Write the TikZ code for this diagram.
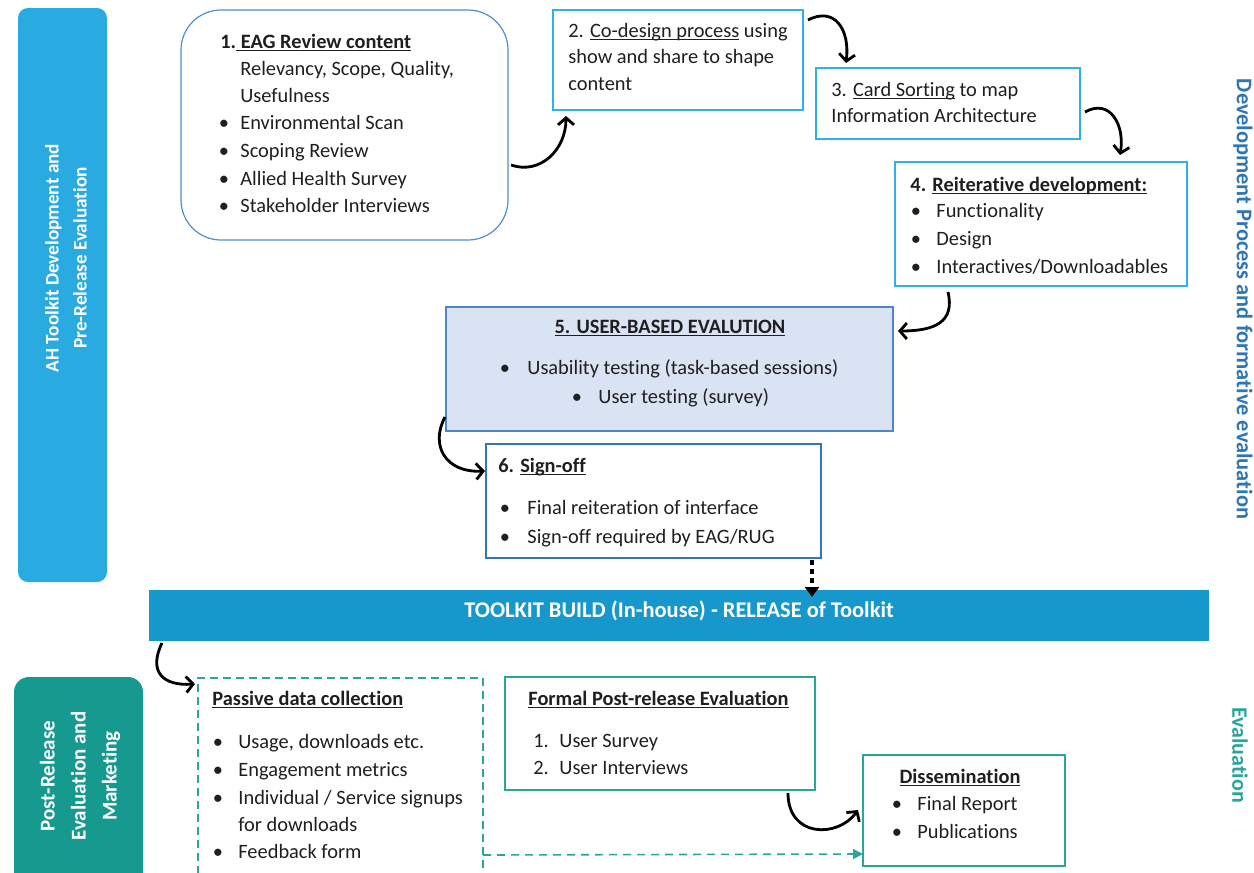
\documentclass[tikz,border=0pt]{standalone}
\usepackage{fontspec}
\setmainfont{Carlito}[Ligatures=NoCommon]
\usetikzlibrary{arrows.meta,calc}
\newcommand\myul[1]{\leavevmode\setbox0\hbox{#1}\rlap{\rule[-1.7pt]{\wd0}{0.7pt}}\box0{}}
\definecolor{lbarblue}{HTML}{29ABE2}
\definecolor{barblue}{HTML}{1798CC}
\definecolor{tealfill}{HTML}{16998F}
\definecolor{tealline}{HTML}{2AA59E}
\definecolor{rightblue}{HTML}{2E75B6}
\definecolor{boxoneline}{HTML}{4A90D0}
\definecolor{cyanline}{HTML}{2EB0E8}
\definecolor{bfivefill}{HTML}{DAE3F3}
\definecolor{bfiveline}{HTML}{4F86C6}
\definecolor{bsixline}{HTML}{3674B8}
\definecolor{textcol}{HTML}{1F1F1F}
\newcommand\bodyf{\fontsize{10.2}{12}\selectfont}
\tikzset{
  box/.style={draw, line width=0.75pt, anchor=north west, inner sep=0pt, outer sep=0pt},
  tx/.style={anchor=base west, inner sep=0pt, font=\bodyf, text=textcol},
  txc/.style={anchor=base, inner sep=0pt, font=\bodyf, text=textcol},
  bl/.style={anchor=base, inner sep=0pt, font=\bodyf, text=textcol},
  carrow/.style={line width=1.4pt, black, -{Straight Barb[length=3.5pt,width=8pt,line width=1.4pt]}},
}
\begin{document}
\begin{tikzpicture}[x=0.5pt,y=-0.5pt]
\useasboundingbox (0,0) rectangle (1254,873);
\fill[white] (0,0) rectangle (1254,873);

% side labels
\node[box, draw=none, fill=lbarblue, rounded corners=5pt, minimum width=44.5pt, minimum height=287pt] (lbar) at (18,8) {};
\node[rotate=90, align=center, text=white, font=\bfseries\fontsize{9.6}{14}\selectfont] (lbartxt) at (66,258) {AH Toolkit Development and\\Pre-Release Evaluation};
\node[box, draw=none, fill=tealfill, rounded corners=7.5pt, minimum width=64.5pt, minimum height=120pt] (tbox) at (14,677) {};
\node[rotate=90, align=center, text=white, font=\bfseries\fontsize{10.5}{15.5}\selectfont] (tboxtxt) at (80,776) {Post-Release\\Evaluation and\\Marketing};
\node[rotate=-90, text=rightblue, font=\bfseries\fontsize{11.2}{12}\selectfont] (rtxt1) at (1243,299) {Development Process and formative evaluation};
\node[rotate=-90, text=tealline, font=\bfseries\fontsize{11}{12}\selectfont] (rtxt2) at (1240,755) {Evaluation};

% boxes
\node[box, draw=boxoneline, line width=0.6pt, rounded corners=20pt, minimum width=163.5pt, minimum height=115pt] (b1) at (181,10) {};
\node[box, draw=cyanline, minimum width=125pt, minimum height=50pt] (b2) at (553,10) {};
\node[box, draw=cyanline, minimum width=132pt, minimum height=35.5pt] (b3) at (816,68) {};
\node[box, draw=cyanline, minimum width=146pt, minimum height=62pt] (b4) at (895,162) {};
\node[box, draw=bfiveline, fill=bfivefill, minimum width=223.5pt, minimum height=62pt] (b5) at (446,307) {};
\node[box, draw=bsixline, minimum width=167.5pt, minimum height=57pt] (b6) at (486,444) {};
\node[box, draw=none, fill=barblue, minimum width=530pt, minimum height=25.5pt] (bar) at (149,590) {};
\node[box, draw=tealline, dash pattern=on 4pt off 2.5pt, minimum width=142.5pt, minimum height=115pt] (pas) at (198,678) {};
\node[box, draw=tealline, minimum width=155pt, minimum height=56.5pt] (formal) at (505,677) {};
\node[box, draw=tealline, minimum width=101pt, minimum height=55.5pt] (diss) at (863,755) {};

% box 1 text
\node[tx] (t1h) at (220,48) {\bfseries 1.\myul{ EAG Review content}};
\node[tx] (t1a) at (240,75) {Relevancy, Scope, Quality,};
\node[tx] (t1b) at (240,102) {Usefulness};
\node[bl] (t1p1) at (224,129) {\textbullet};
\node[tx] (t1c) at (240,129) {Environmental Scan};
\node[bl] (t1p2) at (224,157) {\textbullet};
\node[tx] (t1d) at (240,157) {Scoping Review};
\node[bl] (t1p3) at (224,185) {\textbullet};
\node[tx] (t1e) at (240,185) {Allied Health Survey};
\node[bl] (t1p4) at (224,212) {\textbullet};
\node[tx] (t1f) at (240,212) {Stakeholder Interviews};

% box 2 text
\node[tx] (t2a) at (568,37) {2. \myul{Co-design process} using};
\node[tx] (t2b) at (568,63) {show and share to shape};
\node[tx] (t2c) at (568,90) {content};

% box 3 text
\node[tx] (t3a) at (831,96) {3. \myul{Card Sorting} to map};
\node[tx] (t3b) at (831,122) {Information Architecture};

% box 4 text
\node[tx] (t4h) at (910,191) {\bfseries 4. \myul{Reiterative development:}};
\node[bl] (t4p1) at (916,217) {\textbullet};
\node[tx] (t4a) at (936,217) {Functionality};
\node[bl] (t4p2) at (916,245) {\textbullet};
\node[tx] (t4b) at (936,245) {Design};
\node[bl] (t4p3) at (916,273) {\textbullet};
\node[tx] (t4c) at (936,273) {Interactives/Downloadables};

% box 5 text
\node[txc] (t5h) at (670,333) {\bfseries\myul{5. USER-BASED EVALUTION}};
\node[bl] (t5p1) at (505,374) {\textbullet};
\node[tx] (t5a) at (527,374) {Usability testing (task-based sessions)};
\node[bl] (t5p2) at (577,403) {\textbullet};
\node[tx] (t5b) at (598,403) {User testing (survey)};

% box 6 text
\node[tx] (t6h) at (498,472) {\bfseries 6. \myul{Sign-off}};
\node[bl] (t6p1) at (505,514) {\textbullet};
\node[tx] (t6a) at (527,514) {Final reiteration of interface};
\node[bl] (t6p2) at (505,543) {\textbullet};
\node[tx] (t6b) at (527,543) {Sign-off required by EAG/RUG};

% bar text
\node[anchor=base, inner sep=0pt, text=white, font=\bfseries\fontsize{11.2}{12}\selectfont] (bartxt) at (679,617) {TOOLKIT BUILD (In-house) - RELEASE of Toolkit};

% passive
\node[tx] (tph) at (212,705) {\bfseries\myul{Passive data collection}};
\node[bl] (tpp1) at (218,748) {\textbullet};
\node[tx] (tpa) at (238,748) {Usage, downloads etc.};
\node[bl] (tpp2) at (218,776) {\textbullet};
\node[tx] (tpb) at (238,776) {Engagement metrics};
\node[bl] (tpp3) at (218,804) {\textbullet};
\node[tx] (tpc) at (238,804) {Individual / Service signups};
\node[tx] (tpd) at (238,831) {for downloads};
\node[bl] (tpp4) at (218,858) {\textbullet};
\node[tx] (tpe) at (238,858) {Feedback form};

% formal
\node[tx] (tfh) at (528,705) {\bfseries\myul{Formal Post-release Evaluation}};
\node[tx] (tfn1) at (533,747) {1.};
\node[tx] (tfa) at (559,747) {User Survey};
\node[tx] (tfn2) at (533,774) {2.};
\node[tx] (tfb) at (559,774) {User Interviews};

% dissemination
\node[txc] (tdh) at (960,783) {\bfseries\myul{Dissemination}};
\node[bl] (tdp1) at (897,810) {\textbullet};
\node[tx] (tda) at (917,810) {Final Report};
\node[bl] (tdp2) at (897,838) {\textbullet};
\node[tx] (tdb) at (917,838) {Publications};

% connectors
\draw[carrow] ($(b1.north east)+(3,155)$) .. controls (540,175) and (566,150) .. ($(b2.south west)+(13,6)$);
\draw[carrow] ($(b2.north east)+(5,10)$) .. controls (835,6) and (850,30) .. ($(b3.north west)+(30,-5)$);
\draw[carrow] ($(b3.north east)+(5,44)$) .. controls (1110,98) and (1125,125) .. ($(b4.north west)+(225,-7)$);
\draw[carrow] ($(b4.south west)+(53,6)$) .. controls (955,322) and (935,331) .. ($(b5.north east)+(5,24)$);
\draw[carrow] ($(b5.south west)+(-1,-14)$) .. controls (430,445) and (445,473) .. ($(b6.north west)+(-1,27)$);
\draw[carrow] ($(bar.south west)+(13,2)$) .. controls (148,672) and (163,686) .. ($(pas.north west)+(-3,6)$);
\draw[carrow] ($(formal.south east)+(-27,3)$) .. controls (788,838) and (838,838) .. ($(diss.north west)+(-5,55)$);
\draw[line width=2pt, dash pattern=on 2.5pt off 2pt, -{Triangle[length=5pt,width=7pt]}] ($(b6.south east)+(-9,2)$) -- ($(bar.north west)+(663,7)$);
\draw[tealline, line width=0.8pt, dash pattern=on 4pt off 3pt, -{Triangle[length=5pt,width=5pt]}] ($(pas.north east)+(0,177)$) -- ($(diss.south west)+(0,-12)$);
\end{tikzpicture}
\end{document}
